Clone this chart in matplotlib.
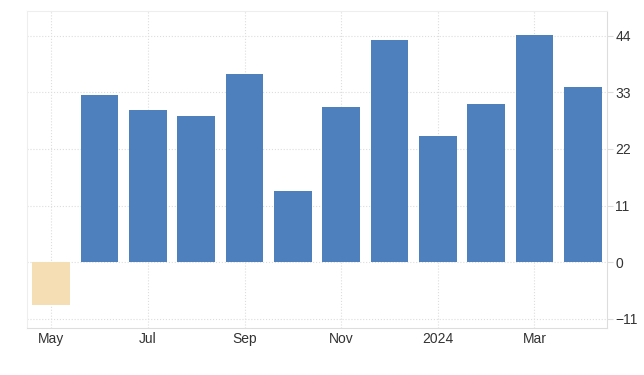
import matplotlib.pyplot as plt

plt.rcParams['font.family'] = ['Liberation Sans', 'DejaVu Sans']

months = ["May", "Jun", "Jul", "Aug", "Sep", "Oct", "Nov", "Dec", "Jan", "Feb", "Mar", "Apr"]
values = [-8.3, 32.4, 29.6, 28.3, 36.6, 13.9, 30.1, 43.1, 24.5, 30.7, 44.1, 34.1]
tick_labels = ["May", "Jul", "Sep", "Nov", "2024", "Mar"]
y_ticks = [-11, 0, 11, 22, 33, 44]

fig = plt.figure(figsize=(6.44, 3.75), dpi=100)
ax = fig.add_axes([0.042, 0.125, 0.9005, 0.846])

x = list(range(len(months)))
colors = ["#f5deb3" if v < 0 else "#4d80bc" for v in values]
ax.bar(x, values, width=0.78, color=colors, zorder=2)

ax.set_xlim(-0.5, 11.5)
ax.set_ylim(-12.8, 48.8)

ax.set_xticks(x[::2])
ax.set_xticklabels(tick_labels)
ax.set_yticks(y_ticks)
ax.yaxis.tick_right()

ax.grid(True, color="#dddddd", linestyle=":", linewidth=0.8, zorder=0)
for s in ["left", "top"]:
    ax.spines[s].set_color("#eeeeee")
for s in ["right", "bottom"]:
    ax.spines[s].set_color("#dddddd")
ax.tick_params(axis="x", length=0, pad=3, labelsize=10, labelcolor="#333333")
ax.tick_params(axis="y", length=4, color="#dddddd", pad=2, labelsize=10, labelcolor="#333333")

fig.savefig("out.png", dpi=100)
